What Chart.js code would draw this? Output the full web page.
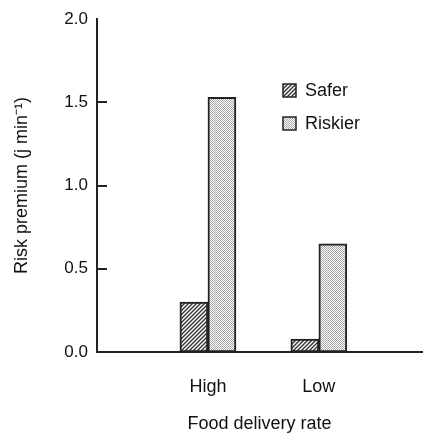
<!DOCTYPE html>
<html>
<head>
<meta charset="utf-8">
<script src="https://cdn.jsdelivr.net/npm/chart.js@4"></script>
<style>
    html, body { margin: 0; padding: 0; background: #fff; }
    #wrap { width: 427px; height: 435px; }
</style>
</head>
<body>
<div id="wrap"><canvas id="risk-chart" width="427" height="435"></canvas></div>
<script>
// 資料
const categories = ['High', 'Low'];
const seriesNames = ['Safer', 'Riskier'];
const saferValues = [0.30, 0.078];
const riskierValues = [1.53, 0.65];
const yTicks = [0, 0.5, 1.0, 1.5, 2.0];
const yTitle = 'Risk premium (j min\u207B\u00B9)';

const FONT = "'Liberation Sans', Arial, sans-serif";
const INK = '#222';

/**
 * 斜線花紋
 */
function makeHatch() {
    const c = document.createElement('canvas');
    c.width = 4;
    c.height = 4;
    const g = c.getContext('2d');
    g.fillStyle = '#fff';
    g.fillRect(0, 0, 4, 4);
    g.strokeStyle = '#333';
    g.lineWidth = 1.4;
    g.beginPath();
    g.moveTo(-1, 5); g.lineTo(5, -1);
    g.moveTo(-1, 1); g.lineTo(1, -1);
    g.moveTo(3, 5); g.lineTo(5, 3);
    g.stroke();
    return g.createPattern(c, 'repeat');
}

/**
 * 網點花紋
 */
function makeChecker() {
    const c = document.createElement('canvas');
    c.width = 2;
    c.height = 2;
    const g = c.getContext('2d');
    g.fillStyle = '#fff';
    g.fillRect(0, 0, 2, 2);
    g.fillStyle = '#a8a8a8';
    g.fillRect(0, 0, 1, 1);
    g.fillRect(1, 1, 1, 1);
    return g.createPattern(c, 'repeat');
}

const hatch = makeHatch();
const checker = makeChecker();

// y 軸刻度線（朝內）與 y 軸標題
const yAxisExtras = {
    id: 'yAxisExtras',
    afterDraw(chart) {
        const ctx = chart.ctx;
        const ys = chart.scales.y;
        const left = chart.chartArea.left;
        ctx.save();
        ctx.fillStyle = INK;
        yTicks.slice(1, -1).forEach((v) => {
            const py = Math.round(ys.getPixelForValue(v));
            ctx.fillRect(left - 1, py - 1, 11, 2);
        });

        ctx.translate(22, (ys.top + ys.bottom) / 2);
        ctx.rotate(-Math.PI / 2);
        ctx.fillStyle = '#111';
        ctx.font = '18px ' + FONT;
        ctx.textAlign = 'center';
        ctx.textBaseline = 'middle';
        ctx.fillText(yTitle, 0, 0);
        ctx.restore();
    },
};

// 自訂圖例（畫在圖表區內）
const innerLegend = {
    id: 'innerLegend',
    afterDraw(chart) {
        const ctx = chart.ctx;
        ctx.save();
        chart.data.datasets.forEach((ds, i) => {
            const x = 283;
            const y = 84 + i * 33;
            ctx.fillStyle = ds.backgroundColor;
            ctx.fillRect(x, y, 13, 13);
            ctx.strokeStyle = INK;
            ctx.lineWidth = 1.5;
            ctx.strokeRect(x, y, 13, 13);
            ctx.fillStyle = '#111';
            ctx.font = '18px ' + FONT;
            ctx.textBaseline = 'middle';
            ctx.fillText(ds.label, x + 22, y + 7);
        });
        ctx.restore();
    },
};

const saferData = categories.map((c, i) => ({ x: i + 1, y: saferValues[i] }));
const riskierData = categories.map((c, i) => ({ x: i + 1, y: riskierValues[i] }));

new Chart(document.getElementById('risk-chart'), {
    type: 'bar',
    data: {
        datasets: [
            {
                label: seriesNames[0],
                data: saferData,
                backgroundColor: hatch,
                borderColor: INK,
                borderWidth: 2,
                borderSkipped: false,
                barThickness: 28,
            },
            {
                label: seriesNames[1],
                data: riskierData,
                backgroundColor: checker,
                borderColor: INK,
                borderWidth: 2,
                borderSkipped: false,
                barThickness: 28,
            },
        ],
    },
    options: {
        responsive: false,
        animation: false,
        layout: {
            padding: { top: 18, right: 5, left: 0, bottom: 0 },
        },
        plugins: {
            legend: { display: false },
            tooltip: { enabled: false },
        },
        scales: {
            x: {
                type: 'linear',
                offset: false,
                min: 0,
                max: 2.93,
                afterBuildTicks: (scale) => {
                    scale.ticks = categories.map((c, i) => ({ value: i + 1 }));
                },
                afterFit: (scale) => {
                    scale.height = 83;
                },
                ticks: {
                    callback: (v) => categories[v - 1] || '',
                    color: '#111',
                    font: { family: FONT, size: 18 },
                    padding: 24,
                    maxRotation: 0,
                },
                grid: { display: false, drawTicks: false, offset: false },
                border: { display: true, color: INK, width: 2 },
                title: {
                    display: true,
                    text: 'Food delivery rate',
                    color: '#111',
                    font: { family: FONT, size: 18 },
                    padding: { top: 0, bottom: 0 },
                },
            },
            y: {
                min: 0,
                max: 2,
                afterBuildTicks: (scale) => {
                    scale.ticks = yTicks.map((v) => ({ value: v }));
                },
                afterFit: (scale) => {
                    scale.width = 97;
                },
                ticks: {
                    callback: (v) => v.toFixed(1),
                    color: '#111',
                    font: { family: FONT, size: 17 },
                    padding: 9,
                },
                grid: { display: false, drawTicks: false },
                border: { display: true, color: INK, width: 2 },
            },
        },
    },
    plugins: [yAxisExtras, innerLegend],
});
</script>
</body>
</html>
